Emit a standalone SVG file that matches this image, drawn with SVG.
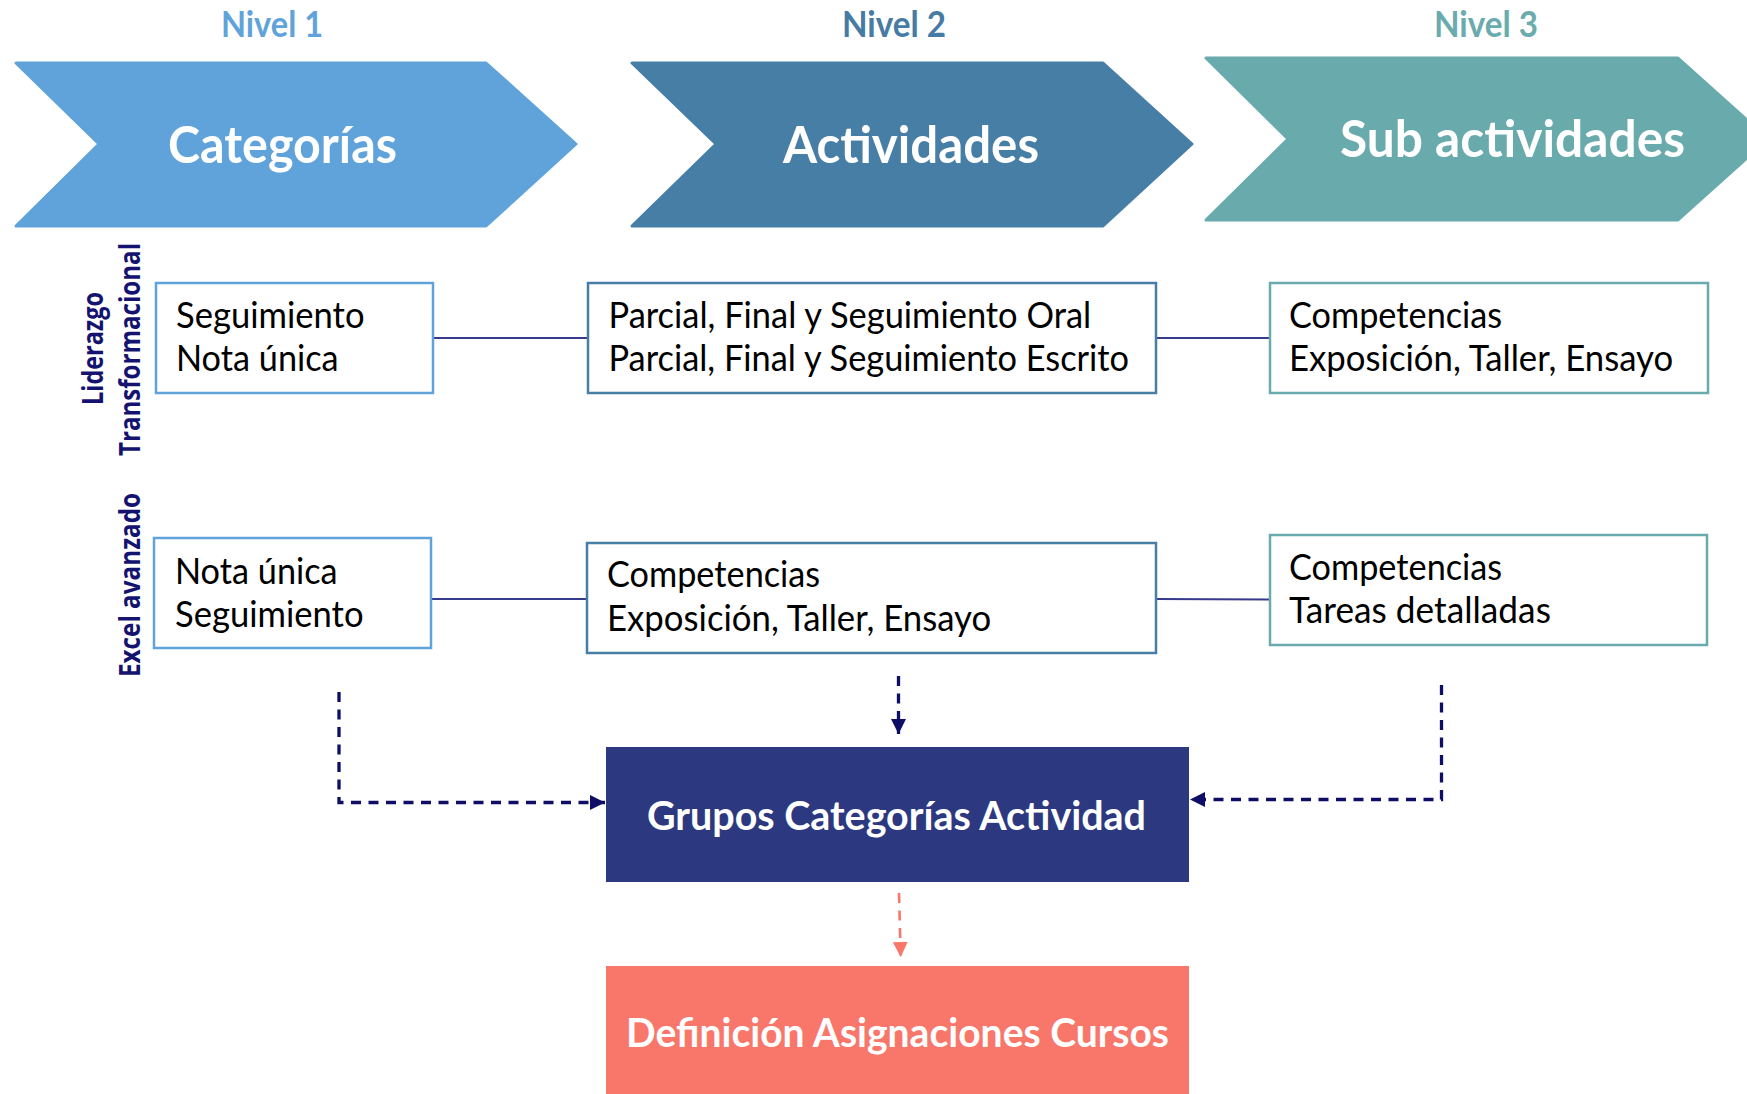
<svg xmlns="http://www.w3.org/2000/svg" width="1747" height="1094" viewBox="0 0 1747 1094">
  <style>
    .lvl { font-family: Lato, "Open Sans", "Liberation Sans", sans-serif; font-weight: 700; font-size: 36px; }
    .chev-t { font-family: Lato, "Open Sans", "Liberation Sans", sans-serif; font-weight: 700; font-size: 52px; fill: #ffffff; }
    .box { fill: #ffffff; stroke-width: 2.5; }
    .bt { font-family: Lato, "Open Sans", "Liberation Sans", sans-serif; font-size: 37px; fill: #000000; }
    .vl { font-family: "Open Sans", "Liberation Sans", sans-serif; font-weight: 700; font-size: 28px; fill: #141470; }
    .big { font-family: Lato, "Open Sans", "Liberation Sans", sans-serif; font-weight: 700; font-size: 41px; fill: #ffffff; }
    .link { stroke: #363a8c; stroke-width: 1.8; fill: none; }
    .dash { stroke: #0e0e66; stroke-width: 3.3; fill: none; stroke-dasharray: 10 7.5; }
    .dash-s { stroke: #f9776a; stroke-width: 2.6; fill: none; stroke-dasharray: 10 7.5; }
  </style>
  <defs>
    <marker id="arrN" viewBox="0 0 10 10" refX="10" refY="5" markerUnits="userSpaceOnUse" markerWidth="15" markerHeight="15" orient="auto">
      <path d="M0,0 L10,5 L0,10 Z" fill="#0e0e66"/>
    </marker>
    <marker id="arrS" viewBox="0 0 10 10" refX="10" refY="5" markerUnits="userSpaceOnUse" markerWidth="15" markerHeight="15" orient="auto">
      <path d="M0,0 L10,5 L0,10 Z" fill="#f9776a"/>
    </marker>
  </defs>

  <rect width="1747" height="1094" fill="#ffffff"/>

  <!-- Level titles -->
  <g id="level-titles">
    <text class="lvl" x="221" y="37" fill="#5fa3da" textLength="102" lengthAdjust="spacingAndGlyphs">Nivel 1</text>
    <text class="lvl" x="842" y="37" fill="#467ba5" textLength="104" lengthAdjust="spacingAndGlyphs">Nivel 2</text>
    <text class="lvl" x="1434" y="37" fill="#6aabad" textLength="104" lengthAdjust="spacingAndGlyphs">Nivel 3</text>
  </g>

  <!-- Chevrons -->
  <g id="chevron-categorias">
    <path d="M16,63 L486,63 L576,144 L486,226 L16,226 L99,144 Z" fill="#5fa3da" stroke="#5fa3da" stroke-width="3" stroke-linejoin="round"/>
    <text class="chev-t" x="168" y="163" textLength="229" lengthAdjust="spacingAndGlyphs">Categorías</text>
  </g>
  <g id="chevron-actividades">
    <path d="M632,63 L1103,63 L1192,144 L1103,226 L632,226 L716,144 Z" fill="#477ea6" stroke="#477ea6" stroke-width="3" stroke-linejoin="round"/>
    <text class="chev-t" x="783" y="163" textLength="256" lengthAdjust="spacingAndGlyphs">Actividades</text>
  </g>
  <g id="chevron-subactividades">
    <path d="M1206,58 L1678,58 L1768,139 L1678,220 L1206,220 L1288,139 Z" fill="#69aaad" stroke="#69aaad" stroke-width="3" stroke-linejoin="round"/>
    <text class="chev-t" x="1340" y="157" textLength="345" lengthAdjust="spacingAndGlyphs">Sub actividades</text>
  </g>

  <!-- Row labels -->
  <g id="label-liderazgo">
    <text class="vl" transform="translate(103,405) rotate(-90)" textLength="113" lengthAdjust="spacingAndGlyphs">Liderazgo</text>
    <text class="vl" transform="translate(139.5,456) rotate(-90)" textLength="213" lengthAdjust="spacingAndGlyphs">Transformacional</text>
  </g>
  <g id="label-excel">
    <text class="vl" transform="translate(139.5,677) rotate(-90)" textLength="184" lengthAdjust="spacingAndGlyphs">Excel avanzado</text>
  </g>

  <!-- Connectors -->
  <g id="connectors">
    <line class="link" x1="433" y1="338" x2="588" y2="338"/>
    <line class="link" x1="1156" y1="338" x2="1270" y2="338"/>
    <line class="link" x1="431" y1="599" x2="587" y2="599"/>
    <line class="link" x1="1156" y1="599" x2="1270" y2="599.5"/>
    <path class="dash" d="M339,692 V802.5 H605" marker-end="url(#arrN)"/>
    <path class="dash" d="M898.5,676 V734" marker-end="url(#arrN)"/>
    <path class="dash" d="M1441.5,685 V799.5 H1190" marker-end="url(#arrN)"/>
    <path class="dash-s" d="M899,893 L900.7,957" marker-end="url(#arrS)"/>
  </g>

  <!-- Row 1 boxes -->
  <g id="box-lt-cat">
    <rect class="box" x="156" y="283" width="277" height="110" stroke="#5fa3da"/>
    <text class="bt" x="176" y="328" textLength="188.5" lengthAdjust="spacingAndGlyphs">Seguimiento</text>
    <text class="bt" x="176" y="371" textLength="162.6" lengthAdjust="spacingAndGlyphs">Nota única</text>
  </g>
  <g id="box-lt-act">
    <rect class="box" x="588" y="283" width="568" height="110" stroke="#477ea6"/>
    <text class="bt" x="608.5" y="327.5" textLength="482.7" lengthAdjust="spacingAndGlyphs">Parcial, Final y Seguimiento Oral</text>
    <text class="bt" x="608.5" y="370.5" textLength="520.6" lengthAdjust="spacingAndGlyphs">Parcial, Final y Seguimiento Escrito</text>
  </g>
  <g id="box-lt-sub">
    <rect class="box" x="1270" y="283" width="438" height="110" stroke="#69aaad"/>
    <text class="bt" x="1289" y="328" textLength="213.2" lengthAdjust="spacingAndGlyphs">Competencias</text>
    <text class="bt" x="1289" y="371" textLength="384.2" lengthAdjust="spacingAndGlyphs">Exposición, Taller, Ensayo</text>
  </g>

  <!-- Row 2 boxes -->
  <g id="box-ex-cat">
    <rect class="box" x="154" y="538" width="277" height="110" stroke="#5fa3da"/>
    <text class="bt" x="175" y="584" textLength="162.6" lengthAdjust="spacingAndGlyphs">Nota única</text>
    <text class="bt" x="175" y="627" textLength="188.5" lengthAdjust="spacingAndGlyphs">Seguimiento</text>
  </g>
  <g id="box-ex-act">
    <rect class="box" x="587" y="543" width="569" height="110" stroke="#477ea6"/>
    <text class="bt" x="607" y="587" textLength="213.2" lengthAdjust="spacingAndGlyphs">Competencias</text>
    <text class="bt" x="607" y="631" textLength="384.2" lengthAdjust="spacingAndGlyphs">Exposición, Taller, Ensayo</text>
  </g>
  <g id="box-ex-sub">
    <rect class="box" x="1270" y="535" width="437" height="110" stroke="#69aaad"/>
    <text class="bt" x="1289" y="580" textLength="213.2" lengthAdjust="spacingAndGlyphs">Competencias</text>
    <text class="bt" x="1289" y="623" textLength="261.9" lengthAdjust="spacingAndGlyphs">Tareas detalladas</text>
  </g>

  <!-- Bottom nodes -->
  <g id="node-grupos">
    <rect x="606" y="747" width="583" height="135" fill="#2c3980"/>
    <text class="big" x="647" y="829.5" textLength="499" lengthAdjust="spacingAndGlyphs">Grupos Categorías Actividad</text>
  </g>
  <g id="node-definicion">
    <rect x="606" y="966" width="583" height="130" fill="#f9776a"/>
    <text class="big" x="626" y="1047" textLength="543" lengthAdjust="spacingAndGlyphs">Definición Asignaciones Cursos</text>
  </g>
</svg>
